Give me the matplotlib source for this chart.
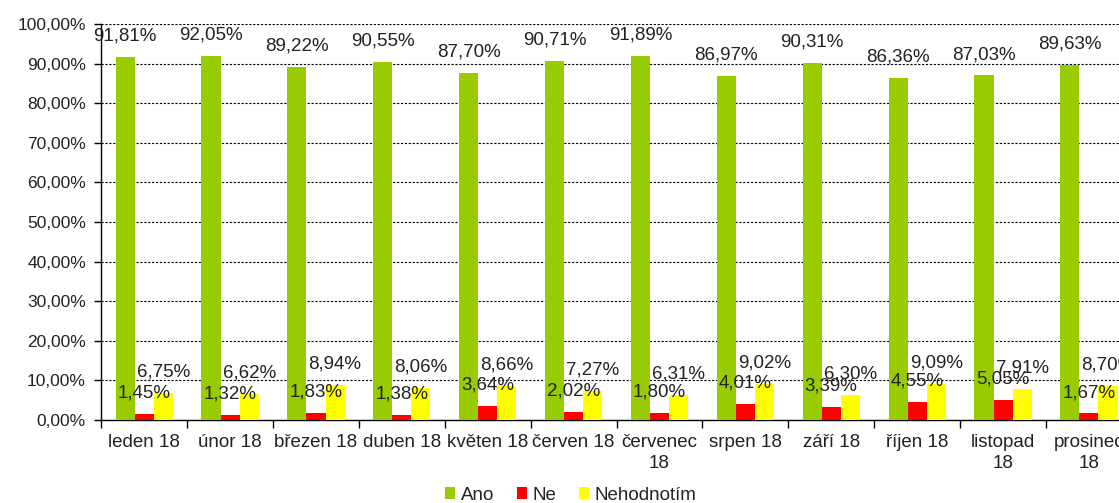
import matplotlib.pyplot as plt
import numpy as np

plt.rcParams['font.family'] = ['Liberation Sans', 'DejaVu Sans']

mesice = ["leden 18", "únor 18", "březen 18", "duben 18", "květen 18", "červen 18",
          "červenec\n18", "srpen 18", "září 18", "říjen 18", "listopad\n18", "prosinec\n18"]
ano = [91.81, 92.05, 89.22, 90.55, 87.70, 90.71, 91.89, 86.97, 90.31, 86.36, 87.03, 89.63]
ne = [1.45, 1.32, 1.83, 1.38, 3.64, 2.02, 1.80, 4.01, 3.39, 4.55, 5.05, 1.67]
nehodnotim = [6.75, 6.62, 8.94, 8.06, 8.66, 7.27, 6.31, 9.02, 6.30, 9.09, 7.91, 8.70]
y_ticks = [0, 10, 20, 30, 40, 50, 60, 70, 80, 90, 100]

serie = [("Ano", ano, "#99CC00"), ("Ne", ne, "#FF0000"), ("Nehodnotím", nehodnotim, "#FFFF00")]
text_barva = "#222222"

def fmt(v):
    return f"{v:.2f}".replace(".", ",") + "%"

fig = plt.figure(figsize=(11.19, 5.03), dpi=100)
ax = fig.add_axes([0.0905, 0.165, 0.921, 0.787])

x = np.arange(len(mesice))
w = 0.222
for i, (nazev, hodnoty, barva) in enumerate(serie):
    pos = x + (i - 1) * w
    ax.bar(pos, hodnoty, width=w, color=barva, label=nazev, zorder=3)
    for px, v in zip(pos, hodnoty):
        ax.annotate(fmt(v), (px, v), xytext=(0, 15), textcoords="offset points",
                    ha="center", va="center", fontsize=13.5, color=text_barva, zorder=4)

ax.set_xlim(-0.5, len(mesice) - 0.5)
ax.set_ylim(0, 100)
ax.set_yticks(y_ticks)
ax.set_yticklabels([fmt(t) for t in y_ticks], fontsize=12.5, color=text_barva)
ax.set_xticks(x)
ax.set_xticklabels(mesice, fontsize=13.5, color=text_barva, linespacing=1.3)
ax.tick_params(axis="x", length=0, pad=10)
ax.set_xticks(np.arange(len(mesice) + 1) - 0.5, minor=True)
ax.tick_params(axis="x", which="minor", length=6, direction="out", width=1)
ax.tick_params(axis="y", length=5, direction="out", width=1, pad=6)

ax.grid(axis="y", color="black", linestyle=(0, (2, 1.5)), linewidth=0.8, zorder=0)
for s in ["top", "right"]:
    ax.spines[s].set_visible(False)
ax.spines["left"].set_linewidth(1)
ax.spines["bottom"].set_linewidth(1)

fig.legend(loc="lower center", bbox_to_anchor=(0.51, -0.035), ncol=3, frameon=False,
           fontsize=13.5, handlelength=0.55, handleheight=0.55, handletextpad=0.3,
           columnspacing=1.2, labelcolor=text_barva)

fig.savefig("out.png", dpi=100)
